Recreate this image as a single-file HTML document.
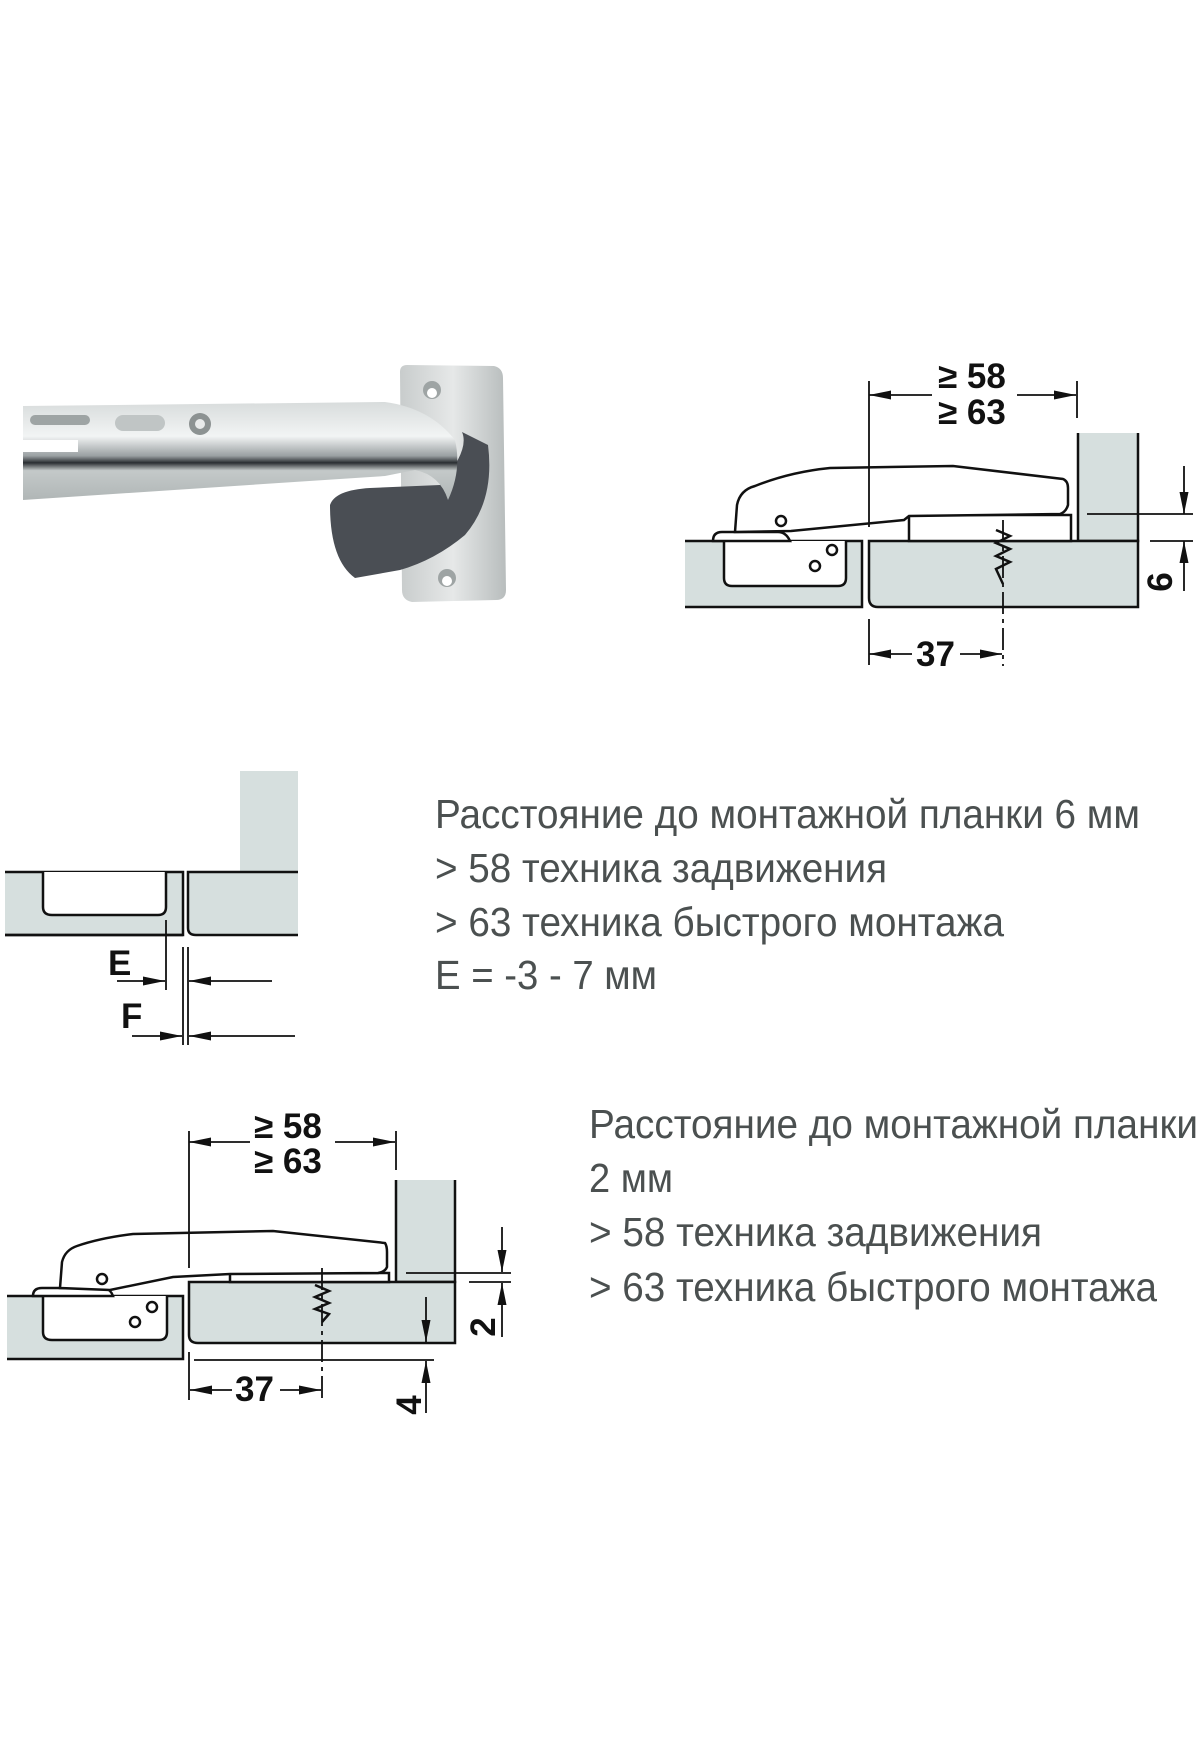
<!DOCTYPE html>
<html><head><meta charset="utf-8"><style>
html,body{margin:0;padding:0;background:#fff;}
svg{display:block;}
.t{font-family:"Liberation Sans",sans-serif;fill:#4b5050;font-size:41px;}
.d{font-family:"Liberation Sans",sans-serif;font-weight:bold;fill:#111;font-size:35px;}
</style></head><body>
<svg width="1200" height="1760" viewBox="0 0 1200 1760" xmlns="http://www.w3.org/2000/svg">
<defs>
<marker id="ar" viewBox="0 0 22 10" refX="22" refY="5" markerWidth="22" markerHeight="10" markerUnits="userSpaceOnUse" orient="auto"><path d="M0,0.5 L22,5 L0,9.5 Z" fill="#111"/></marker>
<linearGradient id="arm" x1="0" y1="0" x2="0" y2="1"><stop offset="0" stop-color="#d8dcdc"/><stop offset="0.35" stop-color="#f2f4f4"/><stop offset="0.55" stop-color="#9aa0a2"/><stop offset="0.62" stop-color="#2a2e32"/><stop offset="0.7" stop-color="#c4c9c9"/><stop offset="1" stop-color="#b0b6b6"/></linearGradient>
<linearGradient id="pl" x1="0" y1="0" x2="1" y2="0"><stop offset="0" stop-color="#c8cccc"/><stop offset="0.5" stop-color="#e6e8e8"/><stop offset="1" stop-color="#b8bdbd"/></linearGradient>
</defs>
<g stroke="none">
<path d="M400 372 Q400 365 407 365 L494 366 Q503 368 503 378 L506 590 Q506 600 496 600 L412 602 Q402 600 402 590 Z" fill="url(#pl)"/>
<path d="M330 505 Q335 490 370 488 L440 485 Q470 450 462 432 L488 445 Q495 500 465 535 Q435 560 400 570 L355 578 Q330 560 330 505 Z" fill="#4a4e54"/>
<path d="M23 406 L385 402 Q430 408 455 440 Q462 470 448 500 Q440 475 415 470 L385 476 L23 500 Z" fill="url(#arm)"/>
<circle cx="200" cy="424" r="11" fill="#8c9292"/><circle cx="200" cy="424" r="5" fill="#e8eaea"/>
<rect x="115" y="415" width="50" height="16" rx="8" fill="#c0c5c5"/>
<rect x="30" y="415" width="60" height="10" rx="5" fill="#9ea4a4"/>
<rect x="23" y="440" width="55" height="12" fill="#fff"/>
<circle cx="432" cy="390" r="9" fill="#9ea4a4"/><circle cx="432" cy="393" r="5" fill="#fff"/>
<circle cx="447" cy="578" r="9" fill="#9ea4a4"/><circle cx="447" cy="581" r="5" fill="#fff"/>
</g>
<g stroke="#111" stroke-width="2.5" fill="#d6dfde">
<path d="M1078 433 L1078 541 L1138 541 L1138 433" />
<path d="M685 541 L862 541 L862 607 L685 607"/>
<path d="M1138 541 L869 541 L869 598 Q869 607 878 607 L1138 607 Z"/>
<path d="M724 541 L724 578 Q724 586 732 586 L838 586 Q846 586 846 578 L846 541" fill="#fff"/>
<rect x="909" y="515" width="162" height="26" fill="#fff"/>
<path d="M713 541 Q713 532 722 532 L778 532 Q786 532 790 541 Z" fill="#fff"/>
<path d="M735 532 L737 505 Q740 490 755 486 Q790 472 830 468 L953 466 L1063 479 Q1068 481 1068 488 L1068 505 Q1066 512 1060 514 L909 516 L904 520 L791 531 Z" fill="#fff"/>
<circle cx="781" cy="521" r="5" fill="#fff"/>
<circle cx="832" cy="550" r="5" fill="#fff"/><circle cx="815" cy="566" r="5" fill="#fff"/>
</g>
<g stroke="#111" stroke-width="1.8" fill="none">
<line x1="869" y1="381" x2="869" y2="527"/><line x1="869" y1="619" x2="869" y2="665"/>
<line x1="1077" y1="381" x2="1077" y2="418"/>
<line x1="932" y1="395" x2="869" y2="395" marker-end="url(#ar)"/>
<line x1="1017" y1="395" x2="1076" y2="395" marker-end="url(#ar)"/>
<line x1="1003" y1="520" x2="1003" y2="666" stroke-dasharray="22,5,4,5"/>
<path d="M996 530 L1010 536 L996 543 L1010 549 L996 556 L1010 562 L996 569 L1003 584" stroke-width="2.5"/>
<line x1="912" y1="654" x2="869" y2="654" marker-end="url(#ar)"/>
<line x1="960" y1="654" x2="1002" y2="654" marker-end="url(#ar)"/>
<line x1="1087" y1="514" x2="1193" y2="514"/><line x1="1150" y1="541" x2="1193" y2="541"/>
<line x1="1184" y1="466" x2="1184" y2="514" marker-end="url(#ar)"/>
<line x1="1184" y1="591" x2="1184" y2="541" marker-end="url(#ar)"/>
</g>
<text class="d" x="938" y="388">≥ 58</text><text class="d" x="938" y="424">≥ 63</text>
<text class="d" x="916" y="666">37</text>
<text class="d" transform="translate(1172,582) rotate(-90)" text-anchor="middle">6</text>

<g stroke="#111" stroke-width="2.5" fill="#d6dfde">
<rect x="240" y="771" width="58" height="101" stroke="none"/>
<path d="M5 872 L183 872 L183 935 L5 935" />
<line x1="5" y1="935" x2="183" y2="935"/>
<path d="M298 872 L188 872 L188 928 Q188 935 196 935 L298 935"/>
<path d="M43 872 L43 907 Q43 915 52 915 L158 915 Q166 915 166 907 L166 872" fill="#fff"/>
</g>
<g stroke="#111" stroke-width="1.8" fill="none">
<line x1="166" y1="920" x2="166" y2="990"/>
<line x1="183" y1="947" x2="183" y2="1045"/><line x1="188" y1="947" x2="188" y2="1045"/>
<line x1="117" y1="981" x2="165" y2="981" marker-end="url(#ar)"/>
<line x1="272" y1="981" x2="189" y2="981" marker-end="url(#ar)"/>
<line x1="132" y1="1036" x2="182" y2="1036" marker-end="url(#ar)"/>
<line x1="295" y1="1036" x2="189" y2="1036" marker-end="url(#ar)"/>
</g>
<text class="d" x="108" y="975" font-size="31">E</text>
<text class="d" x="121" y="1028" font-size="31">F</text>

<g class="t">
<text x="435" y="828" textLength="705" lengthAdjust="spacingAndGlyphs">Расстояние до монтажной планки 6 мм</text>
<text x="435" y="882" textLength="452" lengthAdjust="spacingAndGlyphs">&gt; 58 техника задвижения</text>
<text x="435" y="936" textLength="569" lengthAdjust="spacingAndGlyphs">&gt; 63 техника быстрого монтажа</text>
<text x="435" y="989" textLength="222" lengthAdjust="spacingAndGlyphs">E = -3 - 7 мм</text>
<text x="589" y="1138" textLength="609" lengthAdjust="spacingAndGlyphs">Расстояние до монтажной планки</text>
<text x="589" y="1192" textLength="84" lengthAdjust="spacingAndGlyphs">2 мм</text>
<text x="589" y="1246" textLength="453" lengthAdjust="spacingAndGlyphs">&gt; 58 техника задвижения</text>
<text x="589" y="1301" textLength="568" lengthAdjust="spacingAndGlyphs">&gt; 63 техника быстрого монтажа</text>
</g>

<g stroke="#111" stroke-width="2.5" fill="#d6dfde">
<path d="M396 1180 L396 1282 L455 1282 L455 1180"/>
<path d="M7 1296 L183 1296 L183 1359 L7 1359"/>
<path d="M455 1282 L189 1282 L189 1335 Q189 1343 198 1343 L455 1343 Z"/>
<path d="M43 1296 L43 1332 Q43 1340 52 1340 L159 1340 Q167 1340 167 1332 L167 1296" fill="#fff"/>
<rect x="230" y="1273" width="159" height="9" fill="#fff"/>
<path d="M33 1296 Q33 1288 42 1288 L105 1288 Q111 1290 113 1296 Z" fill="#fff"/>
<path d="M60 1288 L62 1262 Q65 1250 77 1246 Q100 1238 133 1234 L273 1231 L385 1243 Q387 1246 387 1252 L387 1267 Q385 1272 378 1273 L230 1274 L173 1277 L110 1290 Z" fill="#fff"/>
<circle cx="102" cy="1279" r="5" fill="#fff"/>
<circle cx="152" cy="1307" r="5" fill="#fff"/><circle cx="135" cy="1322" r="5" fill="#fff"/>
</g>
<g stroke="#111" stroke-width="1.8" fill="none">
<line x1="189" y1="1131" x2="189" y2="1268"/><line x1="189" y1="1352" x2="189" y2="1400"/>
<line x1="396" y1="1131" x2="396" y2="1170"/>
<line x1="250" y1="1142" x2="189" y2="1142" marker-end="url(#ar)"/>
<line x1="335" y1="1142" x2="395" y2="1142" marker-end="url(#ar)"/>
<line x1="322" y1="1268" x2="322" y2="1402" stroke-dasharray="22,5,4,5"/>
<path d="M315 1285 L329 1291 L315 1297 L329 1303 L315 1309 L329 1314 L322 1322" stroke-width="2.5"/>
<line x1="232" y1="1390" x2="190" y2="1390" marker-end="url(#ar)"/>
<line x1="280" y1="1390" x2="321" y2="1390" marker-end="url(#ar)"/>
<line x1="406" y1="1273" x2="511" y2="1273"/><line x1="469" y1="1282" x2="511" y2="1282"/>
<line x1="502" y1="1227" x2="502" y2="1272" marker-end="url(#ar)"/>
<line x1="502" y1="1337" x2="502" y2="1283" marker-end="url(#ar)"/>
<line x1="426" y1="1297" x2="426" y2="1342" marker-end="url(#ar)"/>
<line x1="194" y1="1360" x2="434" y2="1360"/>
<line x1="426" y1="1413" x2="426" y2="1361" marker-end="url(#ar)"/>
</g>
<text class="d" x="254" y="1138">≥ 58</text><text class="d" x="254" y="1173">≥ 63</text>
<text class="d" x="235" y="1401">37</text>
<text class="d" transform="translate(495,1327) rotate(-90)" text-anchor="middle">2</text>
<text class="d" transform="translate(421,1405) rotate(-90)" text-anchor="middle">4</text>
</svg>
</body></html>
